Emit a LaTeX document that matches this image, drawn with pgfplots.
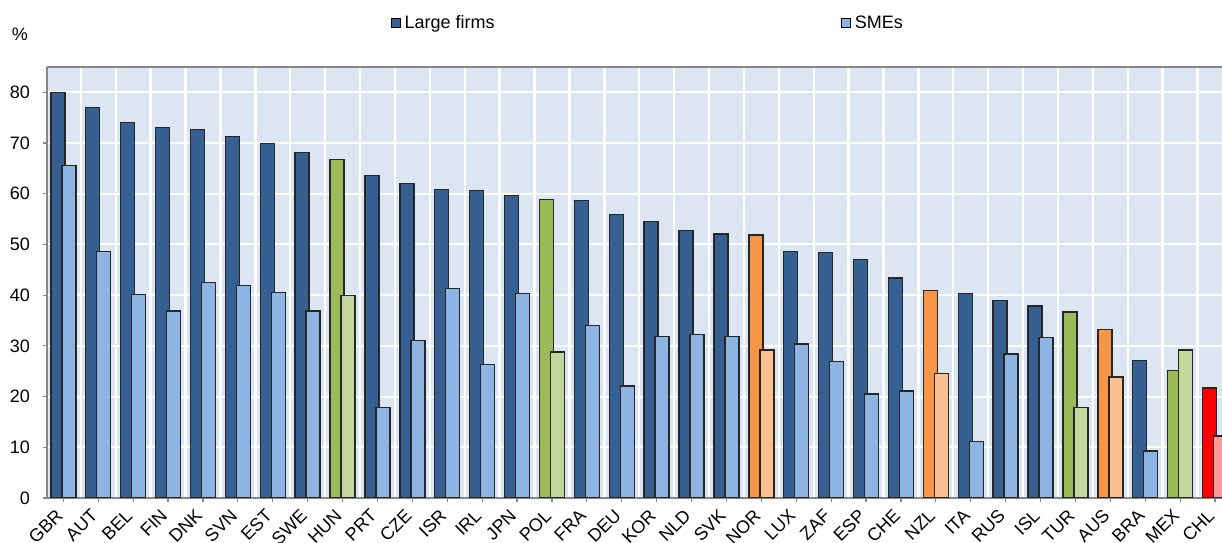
\documentclass[border=0pt]{standalone}
\usepackage{fontspec}
\setmainfont{Liberation Sans}
\usepackage{pgfplots}
\usepackage{pgfplotstable}
\pgfplotsset{compat=1.18}

\definecolor{bgblue}{HTML}{DCE6F2}
\definecolor{largeblue}{HTML}{376092}
\definecolor{smeblue}{HTML}{8EB4E3}
\definecolor{largegreen}{HTML}{9BBB59}
\definecolor{smegreen}{HTML}{C3D69B}
\definecolor{largeorange}{HTML}{F79646}
\definecolor{smeorange}{HTML}{FAC090}
\definecolor{largered}{HTML}{FF0000}
\definecolor{smered}{HTML}{FF9999}
\definecolor{axisgray}{HTML}{868686}

% x = position in the country list, large = large firms, sme = SMEs (%)
\pgfplotstableread{
x  large sme
0  80.0  65.6
1  77.0  48.6
2  74.1  40.1
3  73.1  36.9
4  72.7  42.5
5  71.3  41.9
6  69.9  40.5
7  68.1  36.9
9  63.6  17.8
10 62.0  31.0
11 60.8  41.3
12 60.7  26.3
13 59.6  40.3
15 58.7  34.0
16 55.9  22.1
17 54.5  31.8
18 52.7  32.2
19 52.1  31.8
21 48.6  30.4
22 48.4  26.9
23 47.0  20.5
24 43.4  21.1
26 40.3  11.1
27 38.9  28.4
28 37.9  31.6
31 27.1   9.3
}\bluedata
\pgfplotstableread{
x  large sme
8  66.8  39.9
14 58.9  28.8
29 36.7  17.8
32 25.1  29.2
}\greendata
\pgfplotstableread{
x  large sme
20 51.9  29.2
25 40.9  24.5
30 33.2  23.9
}\orangedata
\pgfplotstableread{
x  large sme
33 21.7  12.2
}\reddata

\begin{document}
\begin{tikzpicture}
\begin{axis}[
    scale only axis,
    width=587.5pt, height=215.5pt,
    xmin=-0.47, xmax=33.2,
    ymin=0, ymax=85,
    clip mode=individual,
    ybar, bar width=7pt,
    axis background/.style={fill=bgblue},
    axis x line*=bottom, axis y line*=left,
    axis line style={draw=axisgray, line width=0.75pt},
    xtick={0,...,33},
    xticklabels={GBR,AUT,BEL,FIN,DNK,SVN,EST,SWE,HUN,PRT,CZE,ISR,IRL,JPN,POL,FRA,DEU,KOR,NLD,SVK,NOR,LUX,ZAF,ESP,CHE,NZL,ITA,RUS,ISL,TUR,AUS,BRA,MEX,CHL},
    minor xtick={-0.5,0.5,...,33.5},
    ytick={0,10,...,80},
    xminorgrids, ymajorgrids,
    minor grid style={white, line width=1.2pt},
    major grid style={white, line width=1pt},
    tick align=outside,
    major tick length=2pt, minor tick length=0pt,
    tick style={draw=axisgray, line width=0.6pt},
    /pgf/number format/assume math mode=true,
    tick label style={font=\fontsize{9}{11}\selectfont},
    xticklabel style={rotate=45, anchor=north east, inner sep=1pt, xshift=-4pt, yshift=2pt},
    yticklabel style={xshift=-3pt},
    legend style={draw=none, fill=none, at={(0.292,1.1)}, anchor=west,
        legend columns=2, font=\fontsize{9}{11}\selectfont, inner sep=0pt,
        /tikz/every even column/.append style={column sep=171pt}},
    legend image code/.code={\draw[#1, draw=black, line width=0.6pt] (0pt,-2pt) rectangle (4.5pt,2.5pt);},
    every axis plot/.append style={draw=black!85, line width=0.7pt},
]
\addplot[fill=largeblue, bar shift=-2.75pt] table[x=x, y=large] {\bluedata};
\addplot[fill=smeblue, bar shift=2.75pt] table[x=x, y=sme] {\bluedata};
\addplot[fill=largegreen, bar shift=-2.75pt, forget plot] table[x=x, y=large] {\greendata};
\addplot[fill=smegreen, bar shift=2.75pt, forget plot] table[x=x, y=sme] {\greendata};
\addplot[fill=largeorange, bar shift=-2.75pt, forget plot] table[x=x, y=large] {\orangedata};
\addplot[fill=smeorange, bar shift=2.75pt, forget plot] table[x=x, y=sme] {\orangedata};
\addplot[fill=largered, bar shift=-2.75pt, forget plot] table[x=x, y=large] {\reddata};
\addplot[fill=smered, bar shift=2.75pt, forget plot] table[x=x, y=sme] {\reddata};
\legend{Large firms, SMEs}
\draw[axisgray, line width=0.75pt] (rel axis cs:0,1) -- (rel axis cs:1,1);
\coordinate (bl) at (rel axis cs:0,0);
\coordinate (tl) at (rel axis cs:0,1);
\coordinate (tr) at (rel axis cs:1,1);
\end{axis}
\node[anchor=base, font=\fontsize{9}{11}\selectfont] at ([xshift=-13.5pt, yshift=13pt]tl) {\%};
\pgfresetboundingbox
\path[use as bounding box] ([xshift=-23.5pt, yshift=-22.5pt]bl) rectangle ([yshift=33.5pt]tr);
\end{tikzpicture}
\end{document}
